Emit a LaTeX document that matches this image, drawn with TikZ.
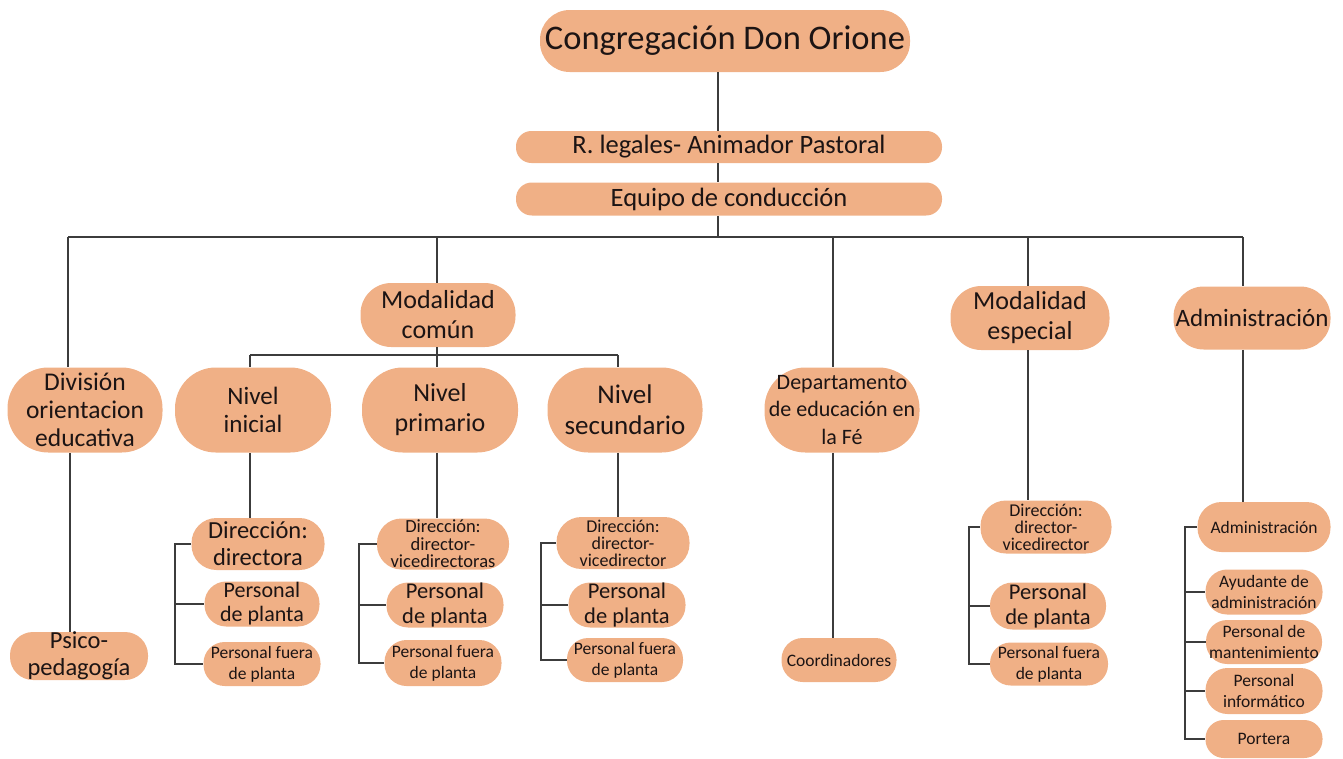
\documentclass[tikz,border=0pt]{standalone}
\usepackage{fontspec}
\setmainfont{Carlito}
\usetikzlibrary{calc}
\definecolor{boxfill}{HTML}{F0B086}
\definecolor{linec}{HTML}{3C3C3C}
\definecolor{txt}{HTML}{1C1414}
\newcommand{\fsz}[2]{\fontsize{\fpeval{#1*0.75}}{\fpeval{#1*0.75*#2}}\selectfont}
\newcommand{\bx}[8][1.15]{\node[orgbox, minimum width=#5*0.75pt, minimum height=#6*0.75pt, rounded corners=#6*0.36pt, font=\fsz{#7}{#1}] (#2) at (#3,#4) {#8};}
\tikzset{
  orgbox/.style={shape=rectangle, fill=boxfill, draw=none, inner sep=0pt, align=center, text=txt},
  conn/.style={draw=linec, line width=2pt}
}
\begin{document}
\begin{tikzpicture}[x=0.75pt, y=-0.75pt]
\useasboundingbox (0,0) rectangle (1343,758);
% nodes
\bx{title}{725}{41}{370}{62}{34.5}{Congregación Don Orione}
\bx{rleg}{729}{147}{426}{32}{26.5}{R. legales- Animador Pastoral}
\bx{eq}{729}{199}{426}{33}{26.5}{Equipo de conducción}
\bx[1.1]{div}{85}{410}{155}{85}{25.5}{División\\orientacion\\educativa}
\bx{modc}{438}{315}{155}{64}{26}{Modalidad\\común}
\bx{ni}{253}{410}{156}{85}{25}{Nivel\\inicial}
\bx{np}{440}{410}{156}{85}{26}{Nivel\\primario}
\bx{ns}{625}{410}{155}{85}{27}{Nivel\\secundario}
\bx[1.23]{dep}{842}{410}{155}{85}{22}{Departamento\\de educación en\\la Fé}
\bx{mode}{1030}{318}{159}{64}{26}{Modalidad\\especial}
\bx{adm}{1252}{318}{157}{63}{25}{Administración}
\bx[1.1]{psico}{79}{656}{138}{48}{24.5}{Psico-\\pedagogía}
\bx[1.1]{dI}{258}{544}{133}{52}{24.5}{Dirección:\\directora}
\bx[1.1]{pI}{262}{604}{115}{45}{22}{Personal\\de planta}
\bx[1.2]{fI}{262}{664}{117}{44}{17.5}{Personal fuera\\de planta}
\bx[0.95]{dP}{443}{544}{132}{51}{18.5}{Dirección:\\director-\\vicedirectoras}
\bx[1.1]{pP}{445}{605}{117}{45}{22.5}{Personal\\de planta}
\bx[1.2]{fP}{443}{663}{117}{46}{17.5}{Personal fuera\\de planta}
\bx[0.95]{dS}{623}{543}{133}{52}{18}{Dirección:\\director-\\vicedirector}
\bx[1.1]{pS}{627}{605}{117}{45}{22.5}{Personal\\de planta}
\bx[1.2]{fS}{625}{660}{116}{44}{17.5}{Personal fuera\\de planta}
\bx{coord}{839}{660}{115}{44}{17.5}{Coordinadores}
\bx[0.95]{dE}{1046}{527}{131}{53}{18}{Dirección:\\director-\\vicedirector}
\bx[1.1]{pE}{1048}{606}{116}{47}{22.5}{Personal\\de planta}
\bx[1.2]{fE}{1049}{664}{118}{43}{17.5}{Personal fuera\\de planta}
\bx{aS}{1264}{527}{133}{50}{17.5}{Administración}
\bx[1.2]{ay}{1264}{592}{117}{45}{17.5}{Ayudante de\\administración}
\bx[1.2]{pm}{1264}{642}{116}{44}{17.5}{Personal de\\mantenimiento}
\bx[1.2]{pinf}{1264}{691}{117}{46}{17.5}{Personal\\informático}
\bx{port}{1264}{739}{117}{38}{17.5}{Portera}
% coordinates
\coordinate (t) at (718,237);
\coordinate (b1) at (68,237);
\coordinate (b2) at (437,237);
\coordinate (b4) at (833,237);
\coordinate (b5) at (1028,237);
\coordinate (b6) at (1243,237);
\coordinate (s1) at (250,355);
\coordinate (s2) at (437,355);
\coordinate (s3) at (618,355);
\coordinate (kI) at (175,0);
\coordinate (kP) at (359,0);
\coordinate (kS) at (541,0);
\coordinate (kE) at (969,0);
\coordinate (kA) at (1185,0);
% connectors
\draw[conn] (title.south -| t) -- (rleg.north -| t);
\draw[conn] (rleg.south -| t) -- (eq.north -| t);
\draw[conn] (eq.south -| t) -- (t);
\draw[conn] (b1) -- (b6);
\draw[conn] (b1) -- (b1 |- div.north);
\draw[conn] (b2) -- (b2 |- modc.north);
\draw[conn] (b4) -- (b4 |- dep.north);
\draw[conn] (b5) -- (b5 |- mode.north);
\draw[conn] (b6) -- (b6 |- adm.north);
\draw[conn] (modc.south -| s2) -- (s2);
\draw[conn] (s1) -- (s3);
\draw[conn] (s1) -- (s1 |- ni.north);
\draw[conn] (s2) -- (s2 |- np.north);
\draw[conn] (s3) -- (s3 |- ns.north);
\draw[conn] ([xshift=1.5pt]div.south -| b1) -- ([xshift=1.5pt]b1 |- psico.north);
\draw[conn] (ni.south -| s1) -- (s1 |- dI.north);
\draw[conn] (np.south -| s2) -- (s2 |- dP.north);
\draw[conn] (ns.south -| s3) -- (s3 |- dS.north);
\draw[conn] (dep.south -| b4) -- (b4 |- coord.north);
\draw[conn] (mode.south -| b5) -- (b5 |- dE.north);
\draw[conn] (adm.south -| b6) -- (b6 |- aS.north);
% brackets
\draw[conn] (dI.west) -- (dI.west -| kI) -- (fI.west -| kI) -- (fI.west);
\draw[conn] (pI.west -| kI) -- (pI.west);
\draw[conn] (dP.west) -- (dP.west -| kP) -- (fP.west -| kP) -- (fP.west);
\draw[conn] (pP.west -| kP) -- (pP.west);
\draw[conn] (dS.west) -- (dS.west -| kS) -- (fS.west -| kS) -- (fS.west);
\draw[conn] (pS.west -| kS) -- (pS.west);
\draw[conn] (dE.west) -- (dE.west -| kE) -- (fE.west -| kE) -- (fE.west);
\draw[conn] (pE.west -| kE) -- (pE.west);
\draw[conn] (aS.west) -- (aS.west -| kA) -- (port.west -| kA) -- (port.west);
\draw[conn] (ay.west -| kA) -- (ay.west);
\draw[conn] (pm.west -| kA) -- (pm.west);
\draw[conn] (pinf.west -| kA) -- (pinf.west);
\end{tikzpicture}
\end{document}
